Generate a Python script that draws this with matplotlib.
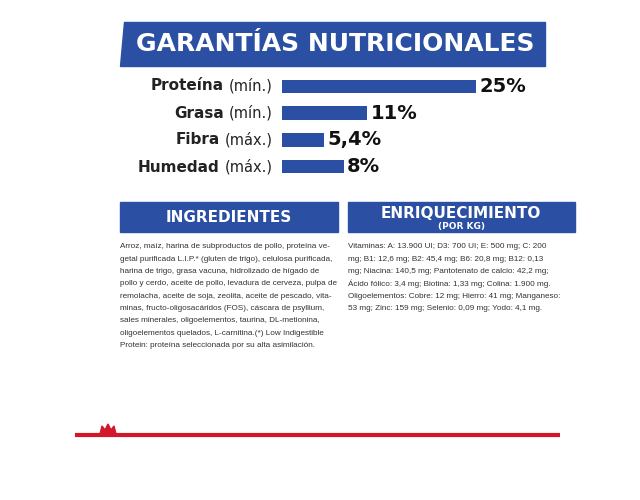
import matplotlib
matplotlib.use('Agg')
import matplotlib.pyplot as plt
from matplotlib.patches import Rectangle, Polygon

BLUE = '#2a4fa3'
RED = '#d3172b'

nutrients = ['Proteína', 'Grasa', 'Fibra', 'Humedad']
qualifiers = ['(mín.)', '(mín.)', '(máx.)', '(máx.)']
values = [25, 11, 5.4, 8]
value_labels = ['25%', '11%', '5,4%', '8%']

ingredients = [
    "Arroz, maíz, harina de subproductos de pollo, proteína ve-",
    "getal purificada L.I.P.* (gluten de trigo), celulosa purificada,",
    "harina de trigo, grasa vacuna, hidrolizado de hígado de",
    "pollo y cerdo, aceite de pollo, levadura de cerveza, pulpa de",
    "remolacha, aceite de soja, zeolita, aceite de pescado, vita-",
    "minas, fructo-oligosacáridos (FOS), cáscara de psyllium,",
    "sales minerales, oligoelementos, taurina, DL-metionina,",
    "oligoelementos quelados, L-carnitina.(*) Low Indigestible",
    "Protein: proteína seleccionada por su alta asimilación.",
]
enrichment = [
    "Vitaminas: A: 13.900 UI; D3: 700 UI; E: 500 mg; C: 200",
    "mg; B1: 12,6 mg; B2: 45,4 mg; B6: 20,8 mg; B12: 0,13",
    "mg; Niacina: 140,5 mg; Pantotenato de calcio: 42,2 mg;",
    "Ácido fólico: 3,4 mg; Biotina: 1,33 mg; Colina: 1.900 mg.",
    "Oligoelementos: Cobre: 12 mg; Hierro: 41 mg; Manganeso:",
    "53 mg; Zinc: 159 mg; Selenio: 0,09 mg; Yodo: 4,1 mg.",
]

fig = plt.figure(figsize=(6.4, 5), dpi=100)
fig.patch.set_facecolor('white')
ax = fig.add_axes([0, 0, 1, 1])
ax.set_xlim(0, 640)
ax.set_ylim(500, 0)
ax.axis('off')

# title banner
ax.add_patch(Polygon([(124, 22), (545, 22), (545, 66), (120, 66)], color=BLUE))
ax.text(335, 44, 'GARANTÍAS NUTRICIONALES', color='white', fontsize=18,
        fontweight='heavy', ha='center', va='center')

# bars in their own axes (x 282..476 px == 0..25)
bax = fig.add_axes([282 / 640, 1 - 180 / 500, (476 - 282) / 640, 107 / 500])
ypos = list(range(len(values)))
bax.barh(ypos, values, height=0.5, color=BLUE)
bax.set_xlim(0, 25)
bax.set_ylim(3.5, -0.5)
bax.axis('off')
for i, (n, q, lab) in enumerate(zip(nutrients, qualifiers, value_labels)):
    y = 86 + i * 27
    qt = ax.text(273, y, q, ha='right', va='center', fontsize=10.5, color='#222222')
    ax.annotate(n, xy=(0, 0.5), xycoords=qt, xytext=(-4, 0), textcoords='offset points',
                ha='right', va='center', fontsize=11, fontweight='bold', color='#222222')
    bax.text(values[i] + 0.4, i, lab, ha='left', va='center', fontsize=14,
             fontweight='bold', color='#111111')

# section headers
ax.add_patch(Rectangle((120, 202), 218, 30, color=BLUE))
ax.text(229, 217, 'INGREDIENTES', color='white', fontsize=11, fontweight='bold',
        ha='center', va='center')
ax.add_patch(Rectangle((348, 202), 227, 30, color=BLUE))
ax.text(461, 213, 'ENRIQUECIMIENTO', color='white', fontsize=11, fontweight='bold',
        ha='center', va='center')
ax.text(461, 226, '(POR KG)', color='white', fontsize=6.5, fontweight='bold',
        ha='center', va='center')

for i, line in enumerate(ingredients):
    ax.text(120, 247 + i * 12.3, line, fontsize=5.9, color='#333333', va='center',
            family='Liberation Sans')
for i, line in enumerate(enrichment):
    ax.text(348, 247 + i * 12.3, line, fontsize=5.9, color='#333333', va='center',
            family='Liberation Sans')

# bottom red line with small crown
ax.plot([75, 560], [435, 435], color=RED, lw=3, solid_capstyle='butt')
ax.add_patch(Polygon([(100, 434), (102, 426), (105, 430), (108, 424), (111, 430),
                      (114, 426), (116, 434)], color=RED))

fig.savefig('out.png', dpi=100, facecolor='white')
